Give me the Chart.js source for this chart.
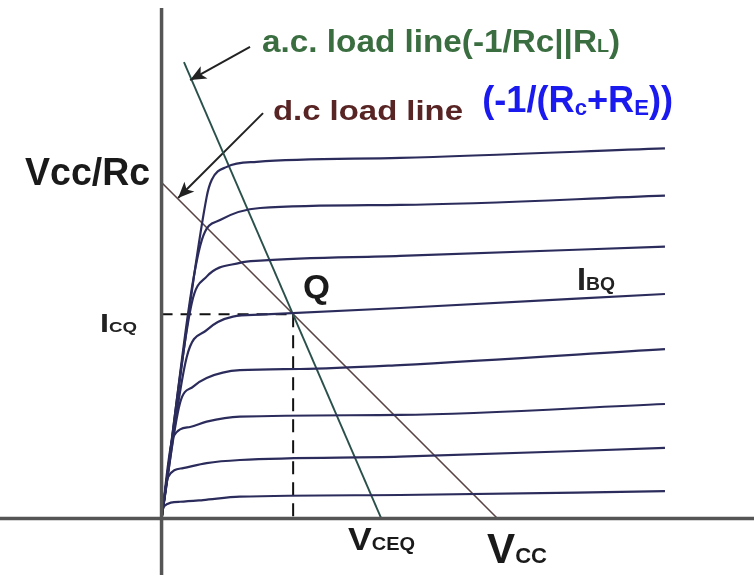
<!DOCTYPE html>
<html>
<head>
<meta charset="utf-8">
<script src="https://cdn.jsdelivr.net/npm/chart.js@4.4.1/dist/chart.umd.min.js"></script>
<style>
  html, body { margin: 0; padding: 0; background: #fff; }
  #wrap { width: 754px; height: 579px; position: relative; }
</style>
</head>
<body>
<div id="wrap"><canvas id="grafico"></canvas></div>
<script>
// V_CE (V) on x, I_C (mA) on y
const VCC = 12;
const VCC_RC = 12;
const Q_POINT = [4.7, 7.3];
const AC_LINE = [[0.8, 16.3], [7.85, 0]];
const DC_LINE = [[0, VCC_RC], [VCC, 0]];

// output characteristics, top curve first
const curve1 = [[0, 0], [1.61, 11.48], [1.79, 12.09], [2.33, 12.56], [3.4, 12.74], [8.52, 12.88], [17.98, 13.22]];
const curve2 = [[0, 0], [1.44, 9.95], [2.09, 10.66], [3.52, 11.09], [8.52, 11.2], [17.98, 11.53]];
const curve3 = [[0, 0], [1.08, 7.7], [1.61, 8.64], [2.8, 9.13], [3.52, 9.21], [8.52, 9.38], [17.98, 9.71]];
const curve4 = [[0, 0], [0.9, 5.77], [1.61, 6.73], [2.55, 7.21], [3.52, 7.28], [8.52, 7.52], [17.98, 8.02]];
const curve5 = [[0, 0], [0.66, 4.13], [1.13, 4.71], [1.61, 5.02], [2.8, 5.3], [4.95, 5.34], [8.52, 5.48], [17.98, 6.05]];
const curve6 = [[0, 0], [0.41, 2.91], [1.02, 3.27], [1.61, 3.46], [2.8, 3.64], [8.52, 3.7], [17.98, 4.09]];
const curve7 = [[0, 0], [0.23, 1.48], [0.77, 1.8], [1.61, 1.98], [2.8, 2.09], [8.52, 2.21], [17.98, 2.52]];
const curve8 = [[0, 0], [0.054, 0.41], [0.66, 0.6], [1.48, 0.66], [2.8, 0.78], [8.52, 0.84], [17.98, 0.98]];
const curvas = [curve1, curve2, curve3, curve4, curve5, curve6, curve7, curve8];

// arrows [tail, tip]
const setaAC = [[3.16, 16.85], [1.02, 15.66]];
const setaDC = [[3.625, 14.48], [0.59, 11.45]];

const X_MIN = -5.77, X_MAX = 21.16;
const Y_MIN = -2.16, Y_MAX = 18.52;

const FAMILIA = '"Liberation Sans", Arial, sans-serif';

// texts: anchor (left, baseline) in data units, runs with size / vertical offset
const rotulos = [
  { x: 3.59, y: 16.66, cor: "#3a6e40", peso: "bold", largura: 358,
    runs: [{ t: "a.c. load line(-1/Rc||R", s: 32 }, { t: "L", s: 19 }, { t: ")", s: 32 }] },
  { x: 3.98, y: 14.23, cor: "#582424", peso: "bold", largura: 190,
    runs: [{ t: "d.c load line", s: 28 }] },
  { x: 11.45, y: 14.52, cor: "#1a1aee", peso: "bold", largura: 191,
    runs: [{ t: "(-1/(R", s: 36 }, { t: "c", s: 22, dy: 3 }, { t: "+R", s: 36 }, { t: "E", s: 22, dy: 3 }, { t: "))", s: 36 }] },
  { x: -4.875, y: 11.91, cor: "#1a1a1a", peso: "bold", largura: 125,
    runs: [{ t: "Vcc/Rc", s: 38 }] },
  { x: -2.2, y: 6.66, cor: "#222", peso: "bold", largura: 37,
    runs: [{ t: "I", s: 26 }, { t: "CQ", s: 15 }] },
  { x: 5.05, y: 7.875, cor: "#1a1a1a", peso: "bold", largura: 27,
    runs: [{ t: "Q", s: 33 }] },
  { x: 14.84, y: 8.16, cor: "#222", peso: "bold", largura: 38,
    runs: [{ t: "I", s: 32 }, { t: "BQ", s: 19 }] },
  { x: 6.66, y: -1.125, cor: "#1a1a1a", peso: "bold", largura: 67,
    runs: [{ t: "V", s: 32 }, { t: "CEQ", s: 18 }] },
  { x: 11.625, y: -1.59, cor: "#1a1a1a", peso: "bold", largura: 60,
    runs: [{ t: "V", s: 42 }, { t: "CC", s: 22 }] }
];

function pontos(lista) {
  return lista.map(([x, y]) => ({ x, y }));
}

function linha(dados, cor, largura, extra) {
  return Object.assign({
    data: pontos(dados),
    borderColor: cor,
    borderWidth: largura,
    pointRadius: 0,
    tension: 0,
    fill: false
  }, extra || {});
}

const datasets = [];

// axes
datasets.push(linha([[X_MIN, 0], [X_MAX, 0]], "#555", 3.5));
datasets.push(linha([[0, 18.23], [0, -2.02]], "#555", 3.5));

curvas.forEach((c) => {
  datasets.push(linha(c, "#2c2c5c", 2.2, { cubicInterpolationMode: "monotone" }));
});

datasets.push(linha(AC_LINE, "#2a504a", 1.9));
datasets.push(linha(DC_LINE, "#5a4444", 1.6));

// Q dashed projections
datasets.push(linha([[0, Q_POINT[1]], Q_POINT], "#111", 2, { borderDash: [11, 8] }));
datasets.push(linha([Q_POINT, [Q_POINT[0], 0]], "#111", 2, { borderDash: [13, 8] }));

// arrow shafts
datasets.push(linha(setaAC, "#222", 2));
datasets.push(linha(setaDC, "#222", 2));

const desenhos = {
  id: "desenhos",
  afterDatasetsDraw(chart) {
    const ctx = chart.ctx;
    const sx = chart.scales.x, sy = chart.scales.y;

    [setaAC, setaDC].forEach(([cauda, ponta]) => {
      const x0 = sx.getPixelForValue(cauda[0]), y0 = sy.getPixelForValue(cauda[1]);
      const x1 = sx.getPixelForValue(ponta[0]), y1 = sy.getPixelForValue(ponta[1]);
      const ang = Math.atan2(y1 - y0, x1 - x0);
      const L = 16, W = 7;
      ctx.save();
      ctx.translate(x1, y1);
      ctx.rotate(ang);
      ctx.fillStyle = "#222";
      ctx.beginPath();
      ctx.moveTo(0, 0);
      ctx.lineTo(-L, -W);
      ctx.lineTo(-L * 0.75, 0);
      ctx.lineTo(-L, W);
      ctx.closePath();
      ctx.fill();
      ctx.restore();
    });

    rotulos.forEach((r) => {
      let w = 0;
      r.runs.forEach((run) => {
        ctx.font = `${r.peso} ${run.s}px ${FAMILIA}`;
        w += ctx.measureText(run.t).width;
      });
      const esc = r.largura ? r.largura / w : 1;
      ctx.save();
      ctx.translate(sx.getPixelForValue(r.x), sy.getPixelForValue(r.y));
      ctx.scale(esc, 1);
      ctx.fillStyle = r.cor;
      ctx.textBaseline = "alphabetic";
      let cx = 0;
      r.runs.forEach((run) => {
        ctx.font = `${r.peso} ${run.s}px ${FAMILIA}`;
        ctx.fillText(run.t, cx, run.dy || 0);
        cx += ctx.measureText(run.t).width;
      });
      ctx.restore();
    });
  }
};

new Chart(document.getElementById("grafico").getContext("2d"), {
  type: "line",
  data: { datasets },
  options: {
    responsive: true,
    maintainAspectRatio: false,
    animation: false,
    layout: { padding: 0 },
    plugins: { legend: { display: false }, tooltip: { enabled: false } },
    scales: {
      x: { type: "linear", min: X_MIN, max: X_MAX, display: false },
      y: { type: "linear", min: Y_MIN, max: Y_MAX, display: false }
    }
  },
  plugins: [desenhos]
});
</script>
</body>
</html>
